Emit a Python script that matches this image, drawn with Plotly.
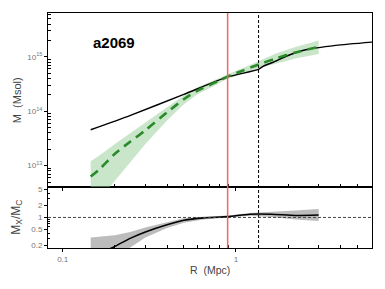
import plotly.graph_objects as go

# ---- data ----
# Black line, top panel (M_C), log10 M
r_c = [0.145, 0.244, 0.5, 0.895, 1.35, 1.44, 1.64, 1.95, 2.53, 3.77, 6.09]
logm_c = [13.66, 13.92, 14.31, 14.63, 14.77, 14.83, 14.90, 15.01, 15.13, 15.21, 15.27]

# Green dashed line + band (M_X), log10 M
r_x = [0.145, 0.165, 0.2, 0.245, 0.3, 0.4, 0.5, 0.6, 0.75, 0.9, 1.1, 1.35, 1.7, 2.2, 3.0]
logm_x = [12.80, 12.95, 13.22, 13.44, 13.65, 13.98, 14.22, 14.38, 14.52, 14.64, 14.75, 14.86, 14.97, 15.08, 15.18]
logm_x_hi = [13.08, 13.20, 13.40, 13.60, 13.79, 14.07, 14.29, 14.44, 14.57, 14.67, 14.79, 14.92, 15.06, 15.18, 15.30]
logm_x_lo = [12.20, 12.40, 12.70, 13.05, 13.40, 13.83, 14.13, 14.31, 14.47, 14.60, 14.69, 14.79, 14.88, 14.97, 15.05]

# Ratio panel, log10(Mx/Mc)
r_ratio = [0.145, 0.2, 0.245, 0.3, 0.4, 0.5, 0.65, 0.9, 1.2, 1.6, 2.2, 3.0]
logratio = [-1.00, -0.72, -0.52, -0.36, -0.18, -0.07, -0.01, 0.02, 0.08, 0.08, 0.05, 0.06]
logratio_hi = [-0.50, -0.44, -0.36, -0.25, -0.12, -0.02, 0.02, 0.05, 0.11, 0.13, 0.17, 0.21]
logratio_lo = [-1.20, -1.00, -0.77, -0.50, -0.26, -0.13, -0.05, 0.00, 0.04, 0.01, -0.05, -0.09]

r_red = 0.895
r_dash = 1.35
label = "a2069"

m_ticks = [1e13, 1e14, 1e15]
m_ticktext = ["10<sup>13</sup>", "10<sup>14</sup>", "10<sup>15</sup>"]
ratio_ticks = [0.2, 0.5, 1, 2, 5]
ratio_ticktext = ["0.2", "0.5", "1", "2", "5"]
x_ticks = [0.1, 1]
x_ticktext = ["0.1", "1"]

m_c = [10 ** v for v in logm_c]
m_x = [10 ** v for v in logm_x]
m_x_hi = [10 ** v for v in logm_x_hi]
m_x_lo = [10 ** v for v in logm_x_lo]
ratio = [10 ** v for v in logratio]
ratio_hi = [10 ** v for v in logratio_hi]
ratio_lo = [10 ** v for v in logratio_lo]

fig = go.Figure()

# top panel
fig.add_trace(go.Scatter(x=r_x + r_x[::-1], y=m_x_hi + m_x_lo[::-1], fill="toself",
                         fillcolor="rgba(150,205,150,0.5)", line=dict(width=0),
                         xaxis="x2", yaxis="y2", hoverinfo="skip"))
fig.add_trace(go.Scatter(x=r_c, y=m_c, mode="lines", line=dict(color="black", width=1.4, shape="spline", smoothing=0.6),
                         xaxis="x2", yaxis="y2"))
fig.add_trace(go.Scatter(x=r_x, y=m_x, mode="lines", line=dict(color="#2a8a2a", width=2.6, dash="9px,6px", shape="spline", smoothing=0.6),
                         xaxis="x2", yaxis="y2"))

# lower panel
fig.add_trace(go.Scatter(x=r_ratio + r_ratio[::-1], y=ratio_hi + ratio_lo[::-1], fill="toself",
                         fillcolor="rgba(165,165,165,0.75)", line=dict(width=0),
                         xaxis="x", yaxis="y", hoverinfo="skip"))
fig.add_trace(go.Scatter(x=r_ratio, y=ratio, mode="lines", line=dict(color="black", width=1.6, shape="spline", smoothing=0.6),
                         xaxis="x", yaxis="y"))

shapes = [
    dict(type="line", xref="x", yref="paper", x0=r_red, x1=r_red, y0=0, y1=1,
         line=dict(color="#ff6060", width=1.5)),
    dict(type="line", xref="x", yref="paper", x0=r_dash, x1=r_dash, y0=0, y1=1,
         line=dict(color="black", width=1, dash="3px,2px")),
    dict(type="line", xref="paper", yref="y", x0=0, x1=1, y0=1, y1=1,
         line=dict(color="#444", width=1, dash="3px,2px")),
]

axis_common = dict(showgrid=False, zeroline=False, showline=True, linecolor="black", linewidth=1,
                   mirror=True, ticks="outside", ticklen=3, tickcolor="black",
                   tickfont=dict(family="Liberation Sans, Arial", size=8, color="#777"))

minor_x = [0.2, 0.3, 0.4, 0.5, 0.6, 0.7, 0.8, 0.9, 2, 3, 4, 5]

fig.update_layout(
    width=385, height=289,
    margin=dict(l=48, r=13, t=13, b=41),
    paper_bgcolor="white", plot_bgcolor="white",
    showlegend=False,
    shapes=shapes,
    xaxis=dict(type="log", range=[-1.085, 0.785], anchor="y", domain=[0, 1],
               tickmode="array", tickvals=x_ticks, ticktext=x_ticktext,
               minor=dict(ticks="inside", ticklen=3, tickcolor="black", tickvals=minor_x),
               **axis_common),
    xaxis2=dict(type="log", range=[-1.085, 0.785], anchor="y2", matches="x", domain=[0, 1],
                tickmode="array", tickvals=x_ticks, showticklabels=False,
                minor=dict(ticks="inside", ticklen=3, tickcolor="black", tickvals=minor_x),
                **axis_common),
    yaxis=dict(type="log", range=[-0.76, 0.76], domain=[0, 0.26], anchor="x",
               tickmode="array", tickvals=ratio_ticks, ticktext=ratio_ticktext,
               minor=dict(ticks="inside", ticklen=2, tickcolor="black",
                          tickvals=[0.3, 0.4, 0.6, 0.7, 0.8, 0.9, 3, 4]),
               **axis_common),
    yaxis2=dict(type="log", range=[12.61, 15.805], domain=[0.26, 1], anchor="x2",
                tickmode="array", tickvals=m_ticks, ticktext=m_ticktext,
                minor=dict(ticks="inside", ticklen=3, tickcolor="black",
                           tickvals=[k * 10 ** e for e in (12, 13, 14, 15) for k in range(2, 10)]),
                **axis_common),
    annotations=[
        dict(text="<b>" + label + "</b>", xref="paper", yref="paper", x=0.205, y=0.875,
             xanchor="center", yanchor="middle", showarrow=False,
             font=dict(family="Liberation Sans, Arial", size=15, color="black")),
        dict(text="M  (Msol)", xref="paper", yref="paper", x=-0.095, y=0.63, textangle=-90,
             xanchor="center", yanchor="middle", showarrow=False,
             font=dict(family="Liberation Sans, Arial", size=11, color="#444")),
        dict(text="M<sub>X</sub>/M<sub>C</sub>", xref="paper", yref="paper", x=-0.095, y=0.13, textangle=-90,
             xanchor="center", yanchor="middle", showarrow=False,
             font=dict(family="Liberation Sans, Arial", size=12, color="#444")),
        dict(text="R  (Mpc)", xref="paper", yref="paper", x=0.5, y=-0.094,
             xanchor="center", yanchor="middle", showarrow=False,
             font=dict(family="Liberation Sans, Arial", size=10.5, color="#444")),
    ],
)

fig.write_html("out.html", config={"displayModeBar": False},
               post_script="document.body.style.margin='0';document.body.style.overflow='hidden';")
